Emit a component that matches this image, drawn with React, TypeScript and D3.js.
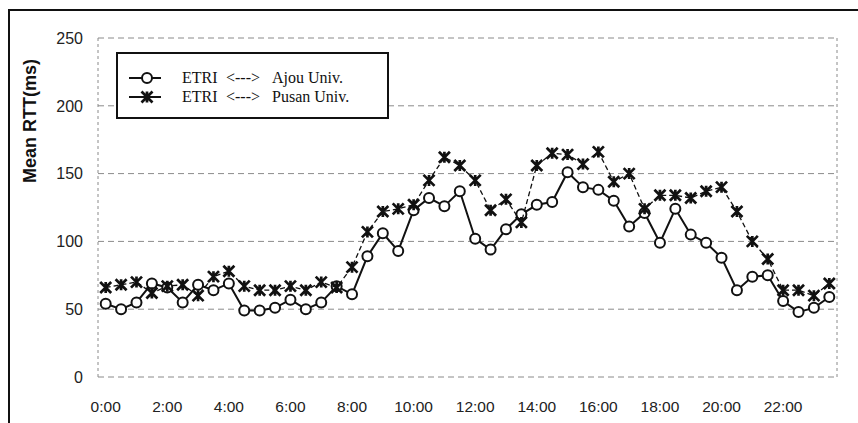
import React from 'react';
import * as d3 from 'd3';

// half-hour slots over one day
const times = [
  '0:00', '0:30', '1:00', '1:30', '2:00', '2:30', '3:00', '3:30',
  '4:00', '4:30', '5:00', '5:30', '6:00', '6:30', '7:00', '7:30',
  '8:00', '8:30', '9:00', '9:30', '10:00', '10:30', '11:00', '11:30',
  '12:00', '12:30', '13:00', '13:30', '14:00', '14:30', '15:00', '15:30',
  '16:00', '16:30', '17:00', '17:30', '18:00', '18:30', '19:00', '19:30',
  '20:00', '20:30', '21:00', '21:30', '22:00', '22:30', '23:00', '23:30',
];
const tickLabels = ['0:00', '2:00', '4:00', '6:00', '8:00', '10:00', '12:00', '14:00', '16:00', '18:00', '20:00', '22:00'];
const yTicks = [0, 50, 100, 150, 200, 250];

// mean RTT in ms
const ajou = [
  54, 50, 55, 69, 66, 55, 68, 64, 69, 49, 49, 51, 57, 50, 55, 67,
  61, 89, 106, 93, 123, 132, 126, 137, 102, 94, 109, 120, 127, 129, 151, 140,
  138, 130, 111, 121, 99, 124, 105, 99, 88, 64, 74, 75, 56, 48, 51, 59,
];
const pusan = [
  66, 68, 70, 62, 67, 68, 60, 74, 78, 67, 64, 64, 67, 64, 70, 66,
  81, 107, 122, 124, 127, 145, 162, 156, 145, 123, 131, 114, 156, 165, 164, 157,
  166, 144, 150, 124, 134, 134, 132, 137, 140, 122, 100, 87, 64, 64, 60, 69,
];

const starPath = (px: number, py: number, r: number) =>
  `M${px},${py - r}V${py + r}M${px - r},${py - r}L${px + r},${py + r}M${px + r},${py - r}L${px - r},${py + r}`;

export default function App() {
  const x = d3.scaleBand<string>().domain(times).range([98, 837]);
  const y = d3.scaleLinear().domain([0, 250]).range([377, 38]);
  const cx = (i: number) => (x(times[i]) ?? 0) + x.bandwidth() / 2;
  const valueLine = d3.line<number>().x((_d, i) => cx(i)).y(d => y(d));

  const gridColor = '#8a8a8a';
  const labelFont = 'Liberation Sans, Arial, sans-serif';
  const serif = 'Liberation Serif, Times New Roman, serif';

  return (
    <svg width={858} height={423} style={{ position: 'absolute', left: 0, top: 0, background: '#fff' }}>
      {/* outer chart frame */}
      <rect x={9} y={10} width={900} height={500} fill="#fff" stroke="#111" strokeWidth={2} />

      {/* grid + plot border */}
      {yTicks.map(t => (
        <line key={t} x1={98} x2={837} y1={y(t)} y2={y(t)} stroke={gridColor} strokeWidth={1} strokeDasharray="6,4" />
      ))}
      <line x1={98} x2={98} y1={y(250)} y2={y(0)} stroke={gridColor} strokeDasharray="3,3" />
      <line x1={837} x2={837} y1={y(250)} y2={y(0)} stroke={gridColor} strokeDasharray="3,3" />

      {/* y tick labels */}
      {yTicks.map(t => (
        <text key={t} x={83} y={y(t)} dy="0.36em" textAnchor="end" fontFamily={labelFont} fontSize={16} fill="#222">
          {t}
        </text>
      ))}

      {/* x tick labels */}
      {tickLabels.map(t => (
        <text key={t} x={(x(t) ?? 0) + x.bandwidth() / 2} y={412} textAnchor="middle" fontFamily={labelFont} fontSize={15.5} fill="#222">
          {t}
        </text>
      ))}

      <text transform="translate(36,121) rotate(-90)" textAnchor="middle" fontFamily={labelFont} fontSize={18} fontWeight="bold" fill="#111">
        Mean RTT(ms)
      </text>

      {/* Ajou series */}
      <path d={valueLine(ajou) ?? ''} fill="none" stroke="#111" strokeWidth={2} />
      {ajou.map((v, i) => (
        <circle key={i} cx={cx(i)} cy={y(v)} r={5} fill="#fff" stroke="#111" strokeWidth={2} />
      ))}

      {/* Pusan series */}
      <path d={valueLine(pusan) ?? ''} fill="none" stroke="#111" strokeWidth={1.3} strokeDasharray="5,3" />
      {pusan.map((v, i) => (
        <path key={i} d={starPath(cx(i), y(v), 5.5)} stroke="#111" strokeWidth={2.7} fill="none" />
      ))}

      {/* legend */}
      <rect x={117} y={53} width={271} height={65} fill="#fff" stroke="#111" strokeWidth={2} />
      <line x1={129} x2={161} y1={78} y2={78} stroke="#111" strokeWidth={2} />
      <circle cx={147} cy={78} r={5} fill="#fff" stroke="#111" strokeWidth={2} />
      <line x1={129} x2={161} y1={97} y2={97} stroke="#111" strokeWidth={2} />
      <path d={starPath(147, 97, 5.5)} stroke="#111" strokeWidth={2.7} fill="none" />
      {[['Ajou Univ.', 83], ['Pusan Univ.', 102]].map(([name, ty]) => (
        <g key={name} fontFamily={serif} fontSize={16} fill="#111">
          <text x={182} y={ty}>ETRI</text>
          <text x={226} y={ty}>{'<--->'}</text>
          <text x={272} y={ty}>{name}</text>
        </g>
      ))}
    </svg>
  );
}
